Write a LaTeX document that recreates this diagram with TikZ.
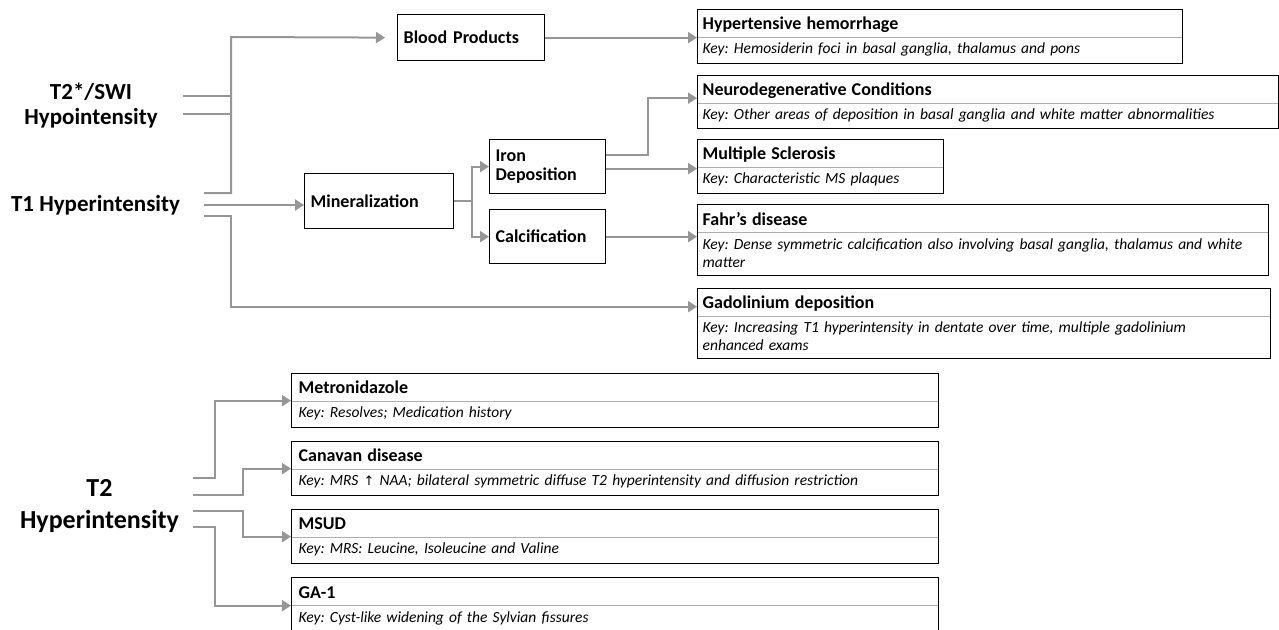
\documentclass[tikz,border=0pt]{standalone}
\usepackage{fontspec}
\setmainfont{Carlito}
\newfontfamily\symfont{DejaVu Sans}
\usetikzlibrary{arrows.meta, positioning}

\definecolor{linkgray}{RGB}{150,150,150}
\definecolor{rulegray}{RGB}{175,175,175}
\newcommand{\dxname}[1]{{\upshape\bfseries\fontsize{18}{20}\selectfont #1}}

\begin{document}
\frenchspacing
\begin{tikzpicture}[x=1pt, y=-1pt,
  mri/.style={font=\fontsize{23}{25}\selectfont\bfseries, align=center, inner sep=0pt},
  stage/.style={draw, line width=1.3pt, anchor=north west, align=left, inner xsep=6pt, font=\fontsize{18}{19}\selectfont\bfseries},
  dx/.style={draw, line width=1.3pt, anchor=north west, align=left, inner xsep=5pt, inner ysep=0pt, font=\fontsize{15.5}{18}\selectfont\itshape,
    path picture={\draw[rulegray, line width=1pt] ([yshift=-28pt]path picture bounding box.north west) -- ([yshift=-28pt]path picture bounding box.north east);}},
  link/.style={linkgray, line width=2pt},
  arrow/.style={link, -{Triangle[length=9pt, width=11pt]}}
]
\useasboundingbox (0,0) rectangle (1279,629);

% sequences
\node[mri] (swi) at (91,105.5) {T2*/SWI\\Hypointensity};
\node[mri] (t1) at (95.5,205) {T1 Hyperintensity};
\node[mri, font=\fontsize{26}{32}\selectfont\bfseries] (t2) at (99.5,506) {T2\\Hyperintensity};

% intermediate findings
\node[stage, text width=135pt, minimum height=46pt] (blood) at (397,14) {Blood Products};
\node[stage, text width=137pt, minimum height=55pt] (mineral) at (304,173) {Mineralization};
\node[stage, text width=104pt, minimum height=54pt] (iron) at (489,139) {Iron\\Deposition};
\node[stage, text width=104pt, minimum height=54pt] (calc) at (489,209) {Calcification};

% diagnoses
\node[dx, text width=475pt, minimum height=54pt] (hyp) at (697,9) {\dxname{Hypertensive hemorrhage}\\[6pt]Key: Hemosiderin foci in basal ganglia, thalamus and pons};
\node[dx, text width=571pt, minimum height=53pt] (neuro) at (697,75) {\dxname{Neurodegenerative Conditions}\\[6pt]Key: Other areas of deposition in basal ganglia and white matter abnormalities};
\node[dx, text width=236pt, minimum height=54pt] (ms) at (697,139) {\dxname{Multiple Sclerosis}\\[6pt]Key: Characteristic MS plaques};
\node[dx, text width=561pt, minimum height=71pt] (fahr) at (697,204) {\dxname{Fahr’s disease}\\[6pt]Key: Dense symmetric calcification also involving basal ganglia, thalamus and white\\matter};
\node[dx, text width=563pt, minimum height=70pt] (gado) at (697,288) {\dxname{Gadolinium deposition}\\[6pt]Key: Increasing T1 hyperintensity in dentate over time, multiple gadolinium\\enhanced exams};

\node[dx, inner xsep=7pt, text width=633pt, minimum height=54pt] (metro) at (291,373) {\dxname{Metronidazole}\\[6pt]Key: Resolves; Medication history};
\node[dx, inner xsep=7pt, text width=633pt, minimum height=54pt] (canavan) at (291,441) {\dxname{Canavan disease}\\[6pt]Key: MRS {\symfont\upshape\fontsize{13}{14}\selectfont ↑} NAA; bilateral symmetric diffuse T2 hyperintensity and diffusion restriction};
\node[dx, inner xsep=7pt, text width=633pt, minimum height=54pt] (msud) at (291,509) {\dxname{MSUD}\\[6pt]Key: MRS: Leucine, Isoleucine and Valine};
\node[dx, inner xsep=7pt, text width=633pt, minimum height=56pt] (ga1) at (291,577) {\dxname{GA-1}\\[6pt]Key: Cyst-like widening of the Sylvian fissures};

% connectors, top part
\coordinate (fork) at (231,37);
\draw[arrow, shorten >=12pt] ([xshift=24pt, yshift=12pt]t1.east) -| (fork) -- (blood.west);
\draw[link] ([xshift=25pt, yshift=9.5pt]swi.east) -| (fork);
\draw[link] ([xshift=25pt, yshift=-8.5pt]swi.east) -| (fork);
\draw[arrow] ([xshift=24pt]t1.east) -- (t1.east -| mineral.west);
\draw[arrow] ([xshift=24pt, yshift=-11pt]t1.east) -| ([yshift=17pt]gado.west -| fork) -- ([yshift=17pt]gado.west);

\draw[arrow] (blood.east) -- (blood.east -| hyp.west);
\draw[arrow] (mineral.east) -- ++(18,0) |- (iron.west);
\draw[arrow] (mineral.east) -- ++(18,0) |- (calc.west);
\draw[arrow] ([yshift=12pt]iron.east) -- ++(42,0) |- ([yshift=4pt]neuro.west);
\draw[arrow] ([yshift=-2pt]iron.east) -- ([yshift=-2pt]ms.west);
\draw[arrow] (calc.east) -- (calc.east -| fahr.west);

% connectors, T2
\draw[arrow] ([xshift=14pt, yshift=28pt]t2.east) -- ++(22,0) |- (metro.west);
\draw[arrow] ([xshift=14pt, yshift=11pt]t2.east) -- ++(50,0) |- (canavan.west);
\draw[arrow] ([xshift=14pt, yshift=-5pt]t2.east) -- ++(50,0) |- (msud.west);
\draw[arrow] ([xshift=14pt, yshift=-21pt]t2.east) -- ++(22,0) |- (ga1.west);

\end{tikzpicture}
\end{document}
